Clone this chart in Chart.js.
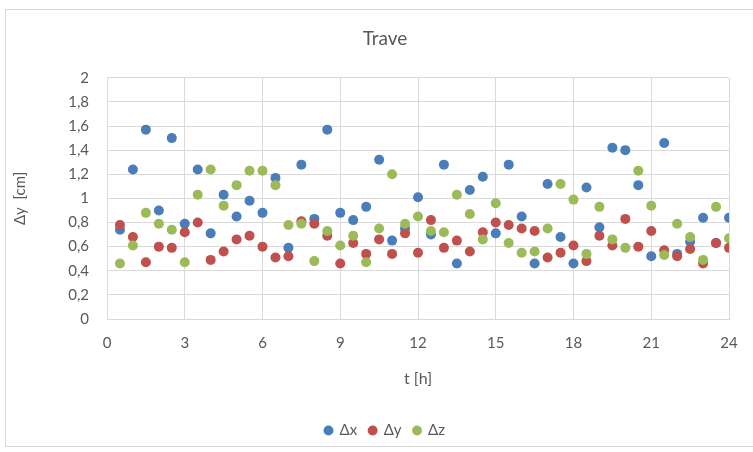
<!DOCTYPE html>
<html>
<head>
<meta charset="utf-8">
<title>Trave</title>
<script src="https://cdn.jsdelivr.net/npm/chart.js@4/dist/chart.umd.min.js"></script>
<style>
  html, body { margin: 0; padding: 0; background: #ffffff; overflow: hidden; }
  #wrap { position: relative; width: 753px; height: 452px; overflow: hidden; }
  #frame { position: absolute; left: 5px; top: 9px; width: 800px; height: 438px; border: 1px solid #d9d9d9; box-sizing: border-box; }
  canvas { position: absolute; left: 0; top: 0; }
</style>
</head>
<body>
<div id="wrap">
  <div id="frame"></div>
  <canvas id="chart" width="753" height="452"></canvas>
</div>
<script>
// Measurement times [h]
const hours = [0.5, 1, 1.5, 2, 2.5, 3, 3.5, 4, 4.5, 5, 5.5, 6,
               6.5, 7, 7.5, 8, 8.5, 9, 9.5, 10, 10.5, 11, 11.5, 12,
               12.5, 13, 13.5, 14, 14.5, 15, 15.5, 16, 16.5, 17, 17.5, 18,
               18.5, 19, 19.5, 20, 20.5, 21, 21.5, 22, 22.5, 23, 23.5, 24];

// Displacements [cm]
const dx = [0.74, 1.24, 1.57, 0.90, 1.50, 0.79, 1.24, 0.71, 1.03, 0.85, 0.98, 0.88,
            1.17, 0.59, 1.28, 0.83, 1.57, 0.88, 0.82, 0.93, 1.32, 0.65, 0.75, 1.01,
            0.70, 1.28, 0.46, 1.07, 1.18, 0.71, 1.28, 0.85, 0.46, 1.12, 0.68, 0.46,
            1.09, 0.76, 1.42, 1.40, 1.11, 0.52, 1.46, 0.54, 0.64, 0.84, 0.63, 0.84];
const dy = [0.78, 0.68, 0.47, 0.60, 0.59, 0.72, 0.80, 0.49, 0.56, 0.66, 0.69, 0.60,
            0.51, 0.52, 0.81, 0.79, 0.69, 0.46, 0.63, 0.54, 0.66, 0.54, 0.71, 0.55,
            0.82, 0.59, 0.65, 0.56, 0.72, 0.80, 0.78, 0.75, 0.73, 0.51, 0.55, 0.61,
            0.48, 0.69, 0.61, 0.83, 0.60, 0.73, 0.57, 0.52, 0.58, 0.46, 0.63, 0.59];
const dz = [0.46, 0.61, 0.88, 0.79, 0.74, 0.47, 1.03, 1.24, 0.94, 1.11, 1.23, 1.23,
            1.11, 0.78, 0.79, 0.48, 0.73, 0.61, 0.69, 0.47, 0.75, 1.20, 0.79, 0.85,
            0.73, 0.72, 1.03, 0.87, 0.66, 0.96, 0.63, 0.55, 0.56, 0.75, 1.12, 0.99,
            0.54, 0.93, 0.66, 0.59, 1.23, 0.94, 0.53, 0.79, 0.68, 0.49, 0.93, 0.67];

const seriesNames = ['\u0394x', '\u0394y', '\u0394z'];
const seriesColors = ['#4a7ebb', '#c0504d', '#9bbb59'];
const seriesValues = [dx, dy, dz];

const textColor = '#595959';
const gridColor = '#d9d9d9';
const fontFamily = 'Lato, "Open Sans", "Noto Sans", sans-serif';

const datasets = seriesValues.map((vals, i) => ({
  label: seriesNames[i],
  data: hours.map((t, j) => ({ x: t, y: vals[j] })),
  backgroundColor: seriesColors[i],
  borderColor: seriesColors[i],
  borderWidth: 0,
  pointRadius: 5,
  pointHoverRadius: 5,
  order: 3 - i   // later series drawn on top
}));

const decimalComma = v => String(Math.round(v * 10) / 10).replace('.', ',');

new Chart(document.getElementById('chart'), {
  type: 'scatter',
  data: { datasets },
  options: {
    responsive: false,
    devicePixelRatio: 1,
    animation: false,
    events: [],
    layout: { padding: { left: 41, right: 24, top: 0, bottom: 4 } },
    plugins: {
      tooltip: { enabled: false },
      title: {
        display: true,
        text: 'Trave',
        color: textColor,
        font: { family: fontFamily, size: 19, weight: 'normal' },
        padding: { top: 27, bottom: 28 }
      },
      legend: {
        display: true,
        position: 'bottom',
        labels: {
          color: textColor,
          font: { family: fontFamily, size: 15 },
          usePointStyle: true,
          pointStyle: 'circle',
          boxWidth: 7,
          boxHeight: 7,
          padding: 12,
          sort: (a, b) => a.datasetIndex - b.datasetIndex
        }
      }
    },
    scales: {
      x: {
        type: 'linear',
        min: 0,
        max: 24,
        ticks: {
          stepSize: 3,
          color: textColor,
          font: { family: fontFamily, size: 15 },
          padding: 15,
          maxRotation: 0
        },
        grid: { color: gridColor, lineWidth: 1, drawTicks: false },
        border: { color: gridColor },
        title: {
          display: true,
          text: 't [h]',
          color: textColor,
          font: { family: fontFamily, size: 16 },
          padding: { top: 0, bottom: 23 }
        },
        afterFit: scale => { scale.height = 92; }
      },
      y: {
        type: 'linear',
        min: 0,
        max: 2,
        ticks: {
          stepSize: 0.2,
          color: textColor,
          font: { family: fontFamily, size: 15 },
          padding: 18,
          callback: v => decimalComma(v)
        },
        grid: { color: gridColor, lineWidth: 1, drawTicks: false },
        border: { color: gridColor },
        title: {
          display: true,
          text: '\u0394y  [cm]',
          color: textColor,
          font: { family: fontFamily, size: 15 },
          padding: { top: -30, bottom: 0 }
        },
        afterFit: scale => { scale.width = 66; }
      }
    }
  }
});
</script>
</body>
</html>
